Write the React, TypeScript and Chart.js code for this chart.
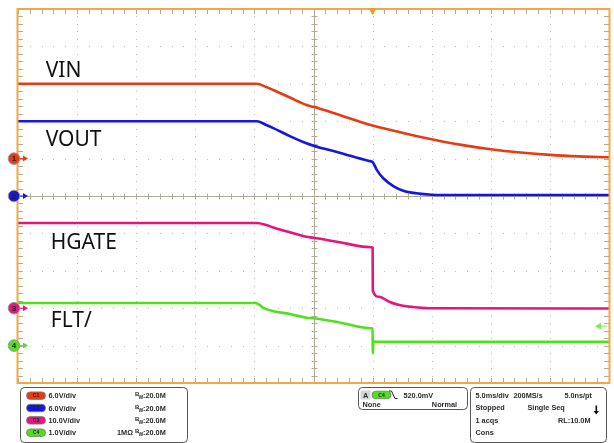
import React, { useEffect, useRef } from "react";
import { Chart, registerables } from "chart.js";
Chart.register(...registerables);

// ---- time axis (ms), 5 ms/div, 10 divisions, trigger at 0 ----
const timeMin = -30;
const timeMax = 20;
const msPerDiv = 5;

// ---- channels ----
const channelNames = ["VIN", "VOUT", "HGATE", "FLT/"];
const channelVdiv = [6, 6, 10, 1];
const channelOffsetDiv = [1, 0, -3, -4];
const channelColors = ["#e63c16", "#1616de", "#e2167c", "#52e01c"];

// VIN (V)
const vinT = [-30, -9.8, -9, -8.4, -7, -5.6, -5, -2.8, 0, 2.5, 5, 7.5, 10, 12.5, 15, 17.5, 20];
const vinV = [12.0, 12.0, 11.5, 11.0, 9.8, 8.6, 8.3, 7.0, 5.3, 4.15, 3.1, 2.2, 1.5, 0.98, 0.6, 0.36, 0.22];

// VOUT (V)
const voutT = [-30, -9.8, -9, -8.4, -7, -5.6, -5, -2.8, -0.3, 0, 0.35, 0.9, 1.75, 2.6, 3.7, 5, 7, 20];
const voutV = [12.0, 12.0, 11.4, 10.9, 9.6, 8.45, 8.07, 6.95, 5.62, 5.45, 4.2, 2.85, 1.6, 0.85, 0.43, 0.21, 0.16, 0.16];

// HGATE (V)
const hgateT = [-30, -9.8, -9, -8.4, -7, -5.6, -5, -2.8, -0.3, 0, 0.02, 0.56, 1.4, 2.26, 3.4, 4.8, 20];
const hgateV = [22.8, 22.8, 22.25, 21.6, 20.3, 19.1, 18.85, 17.65, 16.35, 16.2, 4.6, 3.07, 1.74, 0.86, 0.32, 0.0, -0.1];

// FLT/ (V)
const fltT = [-30, -9.9, -9.2, -8.4, -7, -5.6, -5, -2.8, -0.3, 0, 0.02, 0.06, 0.15, 20];
const fltV = [1.14, 1.14, 1.0, 0.92, 0.845, 0.746, 0.73, 0.62, 0.47, 0.46, -0.2, 0.09, 0.1, 0.1];

// label anchors (ms, V on own channel)
const labelT = [-27.66, -27.66, -27.23, -27.23];
const labelV = [13.04, 8.02, 15.9, 0.505];

const triggerLevel = 0.52; // V on C4

// info panels
const chanScale = ["6.0V/div", "6.0V/div", "10.0V/div", "1.0V/div"];
const chanBw = ["20.0M", "20.0M", "20.0M", "20.0M"];
const chanImp = ["", "", "", "1MΩ"];

const axisIds = ["yC1", "yC2", "yC3", "yC4"];

function axisFor(i: number) {
  const vd = channelVdiv[i];
  const center = -channelOffsetDiv[i] * vd;
  return { type: "linear", display: false, min: center - 5 * vd, max: center + 5 * vd };
}

function toPts(t: number[], v: number[]) {
  return t.map((x, i) => ({ x, y: v[i] }));
}

const gridPlugin = {
  id: "scopeGrid",
  beforeDatasetsDraw(chart: any) {
    const ctx = chart.ctx;
    const xs = chart.scales.x;
    const yd = chart.scales.yDiv;
    const { left, right, top, bottom } = chart.chartArea;
    ctx.save();
    ctx.fillStyle = "#bdbdbd";
    const nx = (timeMax - timeMin) / msPerDiv;
    for (let k = 1; k < nx; k++) {
      if (k === nx / 2) continue;
      const x = Math.round(xs.getPixelForValue(timeMin + k * msPerDiv));
      for (let m = 0; m <= 50; m++) {
        const y = Math.round(yd.getPixelForValue(-5 + m * 0.2));
        ctx.fillRect(x, y, 1, 1);
      }
    }
    for (let j = 1; j < 10; j++) {
      if (j === 5) continue;
      const y = Math.round(yd.getPixelForValue(-5 + j));
      for (let m = 0; m <= (timeMax - timeMin); m++) {
        const x = Math.round(xs.getPixelForValue(timeMin + m));
        ctx.fillRect(x, y, 1, 1);
      }
    }
    // center cross
    const cx = Math.round(xs.getPixelForValue((timeMin + timeMax) / 2 + 0)) + 0.5;
    const cy = Math.round(yd.getPixelForValue(0)) + 0.5;
    ctx.strokeStyle = "#b3ab9a";
    ctx.lineWidth = 1;
    ctx.beginPath();
    ctx.moveTo(cx, top); ctx.lineTo(cx, bottom);
    ctx.moveTo(left, cy); ctx.lineTo(right, cy);
    for (let m = 0; m <= 50; m++) {
      const y = Math.round(yd.getPixelForValue(-5 + m * 0.2)) + 0.5;
      ctx.moveTo(cx - 3, y); ctx.lineTo(cx + 3, y);
      ctx.moveTo(left, y); ctx.lineTo(left + 5, y);
      ctx.moveTo(right - 5, y); ctx.lineTo(right, y);
    }
    for (let m = 0; m <= (timeMax - timeMin); m++) {
      const x = Math.round(xs.getPixelForValue(timeMin + m)) + 0.5;
      ctx.moveTo(x, cy - 3); ctx.lineTo(x, cy + 3);
      ctx.moveTo(x, top); ctx.lineTo(x, top + 5);
      ctx.moveTo(x, bottom - 5); ctx.lineTo(x, bottom);
    }
    ctx.stroke();
    ctx.restore();
  },
  afterDatasetsDraw(chart: any) {
    const ctx = chart.ctx;
    const xs = chart.scales.x;
    const { left, right, top, bottom } = chart.chartArea;
    ctx.save();
    // orange frame
    ctx.strokeStyle = "#f3a742";
    ctx.lineWidth = 2;
    ctx.strokeRect(left - 0.5, top, right - left + 1, bottom - top);
    // trace labels
    ctx.fillStyle = "#111";
    ctx.font = "21px 'Noto Sans'";
    ctx.textBaseline = "alphabetic";
    for (let i = 0; i < 4; i++) {
      const ys = chart.scales[axisIds[i]];
      ctx.fillText(channelNames[i], xs.getPixelForValue(labelT[i]), ys.getPixelForValue(labelV[i]));
    }
    // channel ground markers
    for (let i = 0; i < 4; i++) {
      const ys = chart.scales[axisIds[i]];
      const y = ys.getPixelForValue(0);
      ctx.strokeStyle = channelColors[i];
      ctx.fillStyle = channelColors[i];
      ctx.lineWidth = 1;
      ctx.beginPath(); ctx.moveTo(19, y); ctx.lineTo(24, y); ctx.stroke();
      ctx.beginPath(); ctx.moveTo(28, y); ctx.lineTo(23, y - 3); ctx.lineTo(23, y + 3); ctx.closePath(); ctx.fill();
      ctx.beginPath(); ctx.arc(14, y, 5.8, 0, Math.PI * 2);
      ctx.fill();
      ctx.strokeStyle = "#9a9a9a"; ctx.stroke();
      ctx.fillStyle = "#222";
      ctx.font = "bold 8px 'Liberation Sans'";
      ctx.textAlign = "center"; ctx.textBaseline = "middle";
      ctx.fillText(String(i + 1), 14, y + 0.5);
      ctx.textAlign = "left"; ctx.textBaseline = "alphabetic";
    }
    // trigger position marker
    const tx = xs.getPixelForValue(0);
    ctx.fillStyle = "#f39a2a";
    ctx.beginPath(); ctx.moveTo(tx - 4, top - 1); ctx.lineTo(tx + 4, top - 1); ctx.lineTo(tx, top + 6); ctx.closePath(); ctx.fill();
    // trigger level marker
    const ly = chart.scales.yC4.getPixelForValue(triggerLevel);
    ctx.strokeStyle = "#7ee85a"; ctx.fillStyle = "#7ee85a"; ctx.lineWidth = 1;
    ctx.beginPath(); ctx.moveTo(600, ly); ctx.lineTo(607, ly); ctx.stroke();
    ctx.beginPath(); ctx.moveTo(595, ly); ctx.lineTo(601, ly - 3.5); ctx.lineTo(601, ly + 3.5); ctx.closePath(); ctx.fill();
    ctx.restore();
  },
  afterDraw(chart: any) {
    const ctx = chart.ctx;
    ctx.save();
    const f = "bold 7.3px 'Liberation Sans'";
    const txt = "#2b2b2b";
    const box = (x: number, y: number, w: number, h: number) => {
      ctx.beginPath();
      ctx.roundRect(x + 0.5, y + 0.5, w, h, 4);
      ctx.strokeStyle = "#555"; ctx.lineWidth = 1; ctx.stroke();
    };
    const pill = (x: number, y: number, color: string, label: string) => {
      ctx.save();
      ctx.beginPath();
      ctx.roundRect(x, y, 19, 7.5, 3.75);
      ctx.fillStyle = color; ctx.fill();
      ctx.strokeStyle = "#777"; ctx.lineWidth = 0.8; ctx.stroke();
      ctx.fillStyle = "#222"; ctx.font = "bold 5px 'Liberation Sans'";
      ctx.textAlign = "center"; ctx.textBaseline = "middle";
      ctx.fillText(label, x + 9.5, y + 4);
      ctx.restore();
    };
    box(20, 387, 167, 55);
    box(358, 387, 109, 22);
    box(470, 387, 136, 55);
    for (let i = 0; i < 4; i++) {
      const yc = 395.7 + i * 12.35;
      pill(26.5, yc - 3.8, channelColors[i], "C" + (i + 1));
      ctx.fillStyle = txt; ctx.font = f;
      ctx.fillText(chanScale[i], 48.5, yc + 2.6);
      if (chanImp[i]) ctx.fillText(chanImp[i], 117, yc + 2.6);
      ctx.font = "bold 6px 'Liberation Sans'";
      ctx.fillText("B", 135, yc + 0.5);
      ctx.font = "bold 5px 'Liberation Sans'";
      ctx.fillText("W", 138.5, yc + 3.5);
      ctx.font = f;
      ctx.fillText(":" + chanBw[i], 143, yc + 2.6);
    }
    // trigger panel
    ctx.fillStyle = "#d6d6d6"; ctx.fillRect(360.5, 390.5, 10, 9);
    pill(372, 391.2, channelColors[3], "C4");
    ctx.fillStyle = txt; ctx.font = f;
    ctx.fillText("A", 363, 398);
    ctx.strokeStyle = "#222"; ctx.lineWidth = 1;
    ctx.beginPath(); ctx.moveTo(389, 391); ctx.lineTo(391.5, 391); ctx.lineTo(395, 398.5); ctx.lineTo(397.5, 398.5); ctx.stroke();
    ctx.fillText("520.0mV", 403.5, 398);
    ctx.fillText("None", 362.5, 407);
    ctx.textAlign = "right"; ctx.fillText("Normal", 457, 407); ctx.textAlign = "left";
    // acquisition panel
    ctx.fillText("5.0ms/div", 475.5, 397.5);
    ctx.fillText("200MS/s", 513.5, 397.5);
    ctx.textAlign = "right"; ctx.fillText("5.0ns/pt", 592, 397.5); ctx.textAlign = "left";
    ctx.fillText("Stopped", 475.5, 410);
    ctx.fillText("Single Seq", 527.5, 410);
    ctx.fillText("1 acqs", 475.5, 422.5);
    ctx.textAlign = "right"; ctx.fillText("RL:10.0M", 590.5, 422.5); ctx.textAlign = "left";
    ctx.fillText("Cons", 475.5, 434.5);
    // stop arrow icon
    ctx.fillStyle = "#111";
    ctx.fillRect(595.5, 405.5, 1.6, 6);
    ctx.beginPath(); ctx.moveTo(593.5, 411); ctx.lineTo(599, 411); ctx.lineTo(596.3, 414.5); ctx.closePath(); ctx.fill();
    ctx.restore();
  },
};

export default function App() {
  const ref = useRef<HTMLCanvasElement>(null);
  useEffect(() => {
    if (!ref.current) return;
    const series = [toPts(vinT, vinV), toPts(voutT, voutV), toPts(hgateT, hgateV), toPts(fltT, fltV)];
    const scales: any = {
      x: { type: "linear", display: false, min: timeMin, max: timeMax },
      yDiv: { type: "linear", display: false, min: -5, max: 5 },
    };
    axisIds.forEach((id, i) => (scales[id] = axisFor(i)));
    const chart = new Chart(ref.current, {
      type: "line",
      data: {
        datasets: series.map((d, i) => ({
          label: channelNames[i],
          data: d,
          yAxisID: axisIds[i],
          borderColor: channelColors[i],
          borderWidth: 2.6,
          pointRadius: 0,
          fill: false,
          cubicInterpolationMode: "monotone",
        })),
      },
      options: {
        responsive: false,
        animation: false,
        devicePixelRatio: 1,
        layout: { padding: { left: 18, top: 9, right: 5, bottom: 60 } },
        plugins: { legend: { display: false }, tooltip: { enabled: false }, title: { display: false } },
        scales,
        events: [],
      } as any,
      plugins: [gridPlugin],
    } as any);
    return () => chart.destroy();
  }, []);
  return (
    <div style={{ position: "fixed", left: 0, top: 0, width: 614, height: 443, background: "#fff" }}>
      <canvas ref={ref} width={614} height={443} />
    </div>
  );
}
